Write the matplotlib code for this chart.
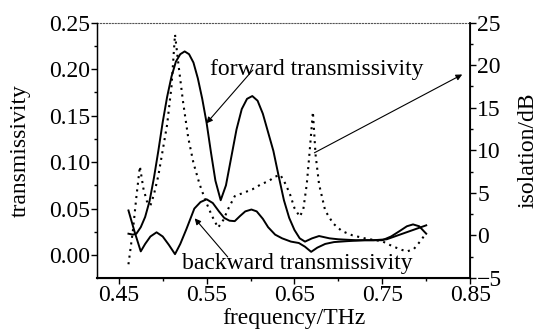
import matplotlib
matplotlib.use("Agg")
import matplotlib.pyplot as plt
from matplotlib.ticker import MultipleLocator

plt.rcParams['font.family'] = ['Liberation Serif', 'DejaVu Serif']
plt.rcParams['font.size'] = 17

# forward transmissivity
freq_fwd = [0.461, 0.466, 0.470, 0.475, 0.480, 0.485, 0.490, 0.495, 0.500, 0.505,
            0.510, 0.515, 0.520, 0.525, 0.530, 0.535, 0.540, 0.545, 0.550, 0.555,
            0.560, 0.566, 0.572, 0.578, 0.584, 0.590, 0.596, 0.602, 0.608, 0.614,
            0.620, 0.626, 0.632, 0.638, 0.644, 0.650, 0.656, 0.662, 0.670, 0.678,
            0.690, 0.700, 0.720, 0.740, 0.755, 0.770, 0.785, 0.800]
fwd = [0.023, 0.022, 0.023, 0.030, 0.041, 0.058, 0.083, 0.112, 0.143, 0.170,
       0.192, 0.208, 0.216, 0.219, 0.216, 0.207, 0.190, 0.168, 0.142, 0.110,
       0.080, 0.059, 0.075, 0.105, 0.135, 0.157, 0.168, 0.171, 0.166, 0.152,
       0.132, 0.112, 0.085, 0.059, 0.040, 0.027, 0.018, 0.0145, 0.018, 0.0205,
       0.018, 0.017, 0.016, 0.016, 0.017, 0.022, 0.027, 0.032]

# backward transmissivity
freq_bwd = [0.461, 0.468, 0.475, 0.480, 0.486, 0.493, 0.500, 0.507, 0.514, 0.520,
            0.527, 0.536, 0.543, 0.550, 0.557, 0.564, 0.570, 0.576, 0.582, 0.588,
            0.594, 0.601, 0.607, 0.614, 0.620, 0.628, 0.636, 0.646, 0.655, 0.662,
            0.669, 0.676, 0.685, 0.695, 0.710, 0.730, 0.750, 0.760, 0.770, 0.778,
            0.785, 0.792, 0.800]
bwd = [0.048, 0.025, 0.004, 0.012, 0.020, 0.0245, 0.020, 0.011, 0.001, 0.012,
       0.028, 0.050, 0.057, 0.060, 0.056, 0.047, 0.040, 0.037, 0.0365, 0.042,
       0.047, 0.049, 0.047, 0.039, 0.030, 0.022, 0.018, 0.0145, 0.013, 0.009,
       0.0035, 0.008, 0.012, 0.014, 0.015, 0.016, 0.016, 0.020, 0.026, 0.031,
       0.033, 0.031, 0.023]

# isolation (dB)
freq_iso = [0.461, 0.466, 0.470, 0.474, 0.478, 0.482, 0.486, 0.490, 0.495, 0.500,
            0.505, 0.510, 0.514, 0.518, 0.523, 0.529, 0.535, 0.542, 0.549, 0.556,
            0.563, 0.569, 0.575, 0.582, 0.592, 0.602, 0.612, 0.621, 0.628, 0.634,
            0.640, 0.645, 0.650, 0.656, 0.660, 0.664, 0.667, 0.671, 0.674, 0.678,
            0.685, 0.694, 0.704, 0.716, 0.732, 0.750, 0.762, 0.772, 0.778, 0.786,
            0.794, 0.800]
iso = [-3.4, 0.5, 4.5, 8.1, 5.5, 4.0, 3.5, 4.8, 7.0, 10.0,
       13.0, 17.5, 23.6, 20.0, 15.8, 11.5, 8.5, 6.0, 4.0, 2.3,
       0.9, 1.8, 3.2, 4.6, 5.0, 5.4, 6.0, 6.4, 6.9, 7.1,
       6.0, 4.8, 3.2, 2.2, 3.0, 6.0, 9.5, 14.5, 9.5, 6.0,
       2.9, 1.4, 0.5, 0.0, -0.4, -0.7, -1.3, -1.7, -1.9, -1.6,
       -0.6, 0.3]

fig, ax = plt.subplots(figsize=(5.41, 3.32), dpi=100)
fig.subplots_adjust(left=0.179, right=0.869, top=0.932, bottom=0.163)
ax2 = ax.twinx()

ax.plot(freq_fwd, fwd, color='black', lw=1.4)
ax.plot(freq_bwd, bwd, color='black', lw=1.4)
ax2.plot(freq_iso, iso, color='black', lw=1.5, linestyle=(0, (1, 2.2)))

ax.set_xlim(0.425, 0.85)
ax.set_ylim(-0.0245, 0.25)
ax2.set_ylim(-5, 25)

ax.set_xticks([0.45, 0.55, 0.65, 0.75, 0.85])
ax.set_xticklabels(['0.45', '0.55', '0.65', '0.75', '0.85'])
ax.xaxis.set_minor_locator(MultipleLocator(0.05))
ax.set_yticks([0.0, 0.05, 0.10, 0.15, 0.20, 0.25])
ax.set_yticklabels(['0.00', '0.05', '0.10', '0.15', '0.20', '0.25'])
ax.yaxis.set_minor_locator(MultipleLocator(0.025))
ax2.set_yticks([-5, 0, 5, 10, 15, 20, 25])
ax2.set_yticklabels(['\u22125', '0', '5', '10', '15', '20', '25'])
ax2.yaxis.set_minor_locator(MultipleLocator(2.5))

for a in (ax, ax2):
    a.tick_params(which='major', direction='out', length=4, width=1, pad=1)
    a.tick_params(which='minor', direction='out', length=2.5, width=1)
ax.tick_params(axis='y', which='both', right=False)

ax.spines['top'].set_linestyle(':')
ax.spines['top'].set_color('#555555')
ax.spines['top'].set_linewidth(0.8)
ax2.spines['top'].set_visible(False)
ax.spines['bottom'].set_linewidth(1.5)
ax2.spines['right'].set_linewidth(1.3)
ax.spines['left'].set_linewidth(1.0)

ax.set_xlabel('frequency/THz')
ax.xaxis.set_label_coords(0.528, -0.118)
ax.set_ylabel('transmissivity', labelpad=13)
ax2.set_ylabel('isolation/dB', labelpad=11)

arrow = dict(arrowstyle='-|>', color='black', lw=0.8, mutation_scale=9,
             shrinkA=0, shrinkB=0)
ax.text(0.5534, 0.2, 'forward transmissivity', va='center', ha='left')
ax.annotate('', xy=(0.5497, 0.1416), xytext=(0.6026, 0.199), arrowprops=arrow)
ax.text(0.522, -0.0095, 'backward transmissivity', va='center', ha='left')
ax.annotate('', xy=(0.5364, 0.0395), xytext=(0.574, -0.002), arrowprops=arrow)
ax2.annotate('', xy=(0.841, 18.9), xytext=(0.6727, 9.7), arrowprops=arrow)

fig.savefig('out.png', dpi=100)
